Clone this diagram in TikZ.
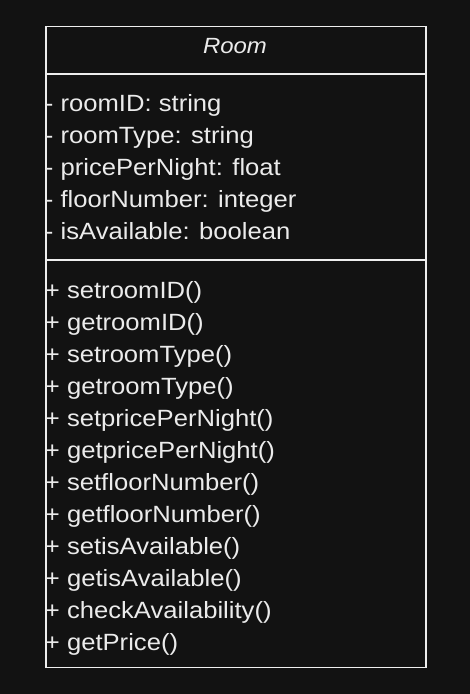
\documentclass[tikz,border=0pt]{standalone}
\usepackage{fontspec}
\setmainfont{Liberation Sans}[FakeStretch=1.09]
\definecolor{bg}{HTML}{121212}
\definecolor{fg}{HTML}{EEEEEE}
\definecolor{tx}{HTML}{EBEBEB}
\begin{document}
\begin{tikzpicture}[x=1pt,y=-1pt,
  member/.style={anchor=base west,inner sep=0pt,outer sep=0pt,text=tx,font=\fontsize{23.5}{26}\selectfont},
  frame/.style={draw=fg,line width=1.8pt}]
\fill[bg] (0,0) rectangle (470,694);
\useasboundingbox (0,0) rectangle (470,694);
\node[frame,minimum width=380pt,minimum height=641pt,anchor=north west,inner sep=0pt] (box) at (45,25.5) {};
\coordinate (h1l) at (45,74);
\coordinate (h1r) at (425,74);
\coordinate (h2l) at (45,260);
\coordinate (h2r) at (425,260);
\draw[frame] (h1l) -- (h1r);
\draw[frame] (h2l) -- (h2r);
\node[anchor=base,inner sep=0pt,text=tx,font=\fontsize{22}{24}\selectfont\itshape] (title) at (235,53) {Room};
\node[member] (a1) at (45,111.5) {- roomID: string};
\node[member] (a2) at (45,143.5) {- roomType: string};
\node[member] (a3) at (45,175.5) {- pricePerNight: float};
\node[member] (a4) at (45,207.5) {- floorNumber: integer};
\node[member] (a5) at (45,239.5) {- isAvailable: boolean};
\node[member] (m1) at (45,298.5) {+ setroomID()};
\node[member] (m2) at (45,330.5) {+ getroomID()};
\node[member] (m3) at (45,362.5) {+ setroomType()};
\node[member] (m4) at (45,394.5) {+ getroomType()};
\node[member] (m5) at (45,426.5) {+ setpricePerNight()};
\node[member] (m6) at (45,458.5) {+ getpricePerNight()};
\node[member] (m7) at (45,490.5) {+ setfloorNumber()};
\node[member] (m8) at (45,522.5) {+ getfloorNumber()};
\node[member] (m9) at (45,554.5) {+ setisAvailable()};
\node[member] (m10) at (45,586.5) {+ getisAvailable()};
\node[member] (m11) at (45,618.5) {+ checkAvailability()};
\node[member] (m12) at (45,650.5) {+ getPrice()};
\end{tikzpicture}
\end{document}
